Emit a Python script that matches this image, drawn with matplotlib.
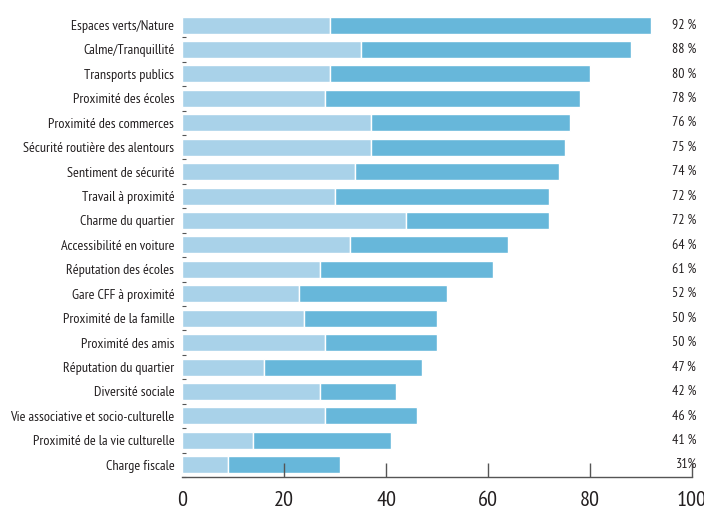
import numpy as np
import matplotlib
matplotlib.use("Agg")
import matplotlib.pyplot as plt

# Critères de choix du quartier (du plus cité au moins cité)
criteres = ["Espaces verts/Nature", "Calme/Tranquillité", "Transports publics",
            "Proximité des écoles", "Proximité des commerces",
            "Sécurité routière des alentours", "Sentiment de sécurité",
            "Travail à proximité", "Charme du quartier", "Accessibilité en voiture",
            "Réputation des écoles", "Gare CFF à proximité", "Proximité de la famille",
            "Proximité des amis", "Réputation du quartier", "Diversité sociale",
            "Vie associative et socio-culturelle", "Proximité de la vie culturelle",
            "Charge fiscale"]
part_claire = [29, 35, 29, 28, 37, 37, 34, 30, 44, 33, 27, 23, 24, 28, 16, 27, 28, 14, 9]
total = [92, 88, 80, 78, 76, 75, 74, 72, 72, 64, 61, 52, 50, 50, 47, 42, 46, 41, 31]
etiquettes = ["92 %", "88 %", "80 %", "78 %", "76 %", "75 %", "74 %", "72 %", "72 %",
              "64 %", "61 %", "52 %", "50 %", "50 %", "47 %", "42 %", "46 %", "41 %", "31%"]
graduations = [0, 20, 40, 60, 80, 100]

part_foncee = np.array(total) - np.array(part_claire)

clair = "#a9d2e9"
fonce = "#67b7da"
gris = "#555555"
texte = "#231f20"
police = ["PT Sans Narrow", "DejaVu Sans"]

fig = plt.figure(figsize=(7.04, 5.14), dpi=100)
ax = fig.add_axes([0.2585, 0.072, 0.7245, 0.903])

y = np.arange(len(criteres))
ax.barh(y, part_claire, height=0.7, color=clair, edgecolor="white", linewidth=1)
ax.barh(y, part_foncee, left=part_claire, height=0.7, color=fonce,
        edgecolor="white", linewidth=1)

# Pourcentages à droite des barres
for i, txt in enumerate(etiquettes):
    ax.text(100.8, i, txt, ha="right", va="center", fontsize=10,
            family=police, color=texte, clip_on=False)

ax.set_xlim(0, 100)
ax.set_ylim(len(criteres) - 0.55, -0.5)
ax.set_yticks(y)
ax.set_yticklabels(criteres, family=police, fontsize=10.2, color=texte)
ax.set_yticks(np.arange(len(criteres)) + 0.5, minor=True)
ax.tick_params(axis="y", which="major", length=0, pad=5.5)
ax.tick_params(axis="y", which="minor", length=3, direction="in", color=gris, width=0.8)

ax.set_xticks(graduations)
ax.set_xticklabels([str(g) for g in graduations], family=police, fontsize=16,
                   color=texte)
ax.tick_params(axis="x", direction="in", length=10, width=1, color=gris, pad=10)
ax.xaxis.get_major_ticks()[0].tick1line.set_visible(False)

for s in ["top", "right", "left"]:
    ax.spines[s].set_visible(False)
ax.spines["bottom"].set_color(gris)
ax.spines["bottom"].set_linewidth(1)

fig.savefig("out.png", dpi=100)
